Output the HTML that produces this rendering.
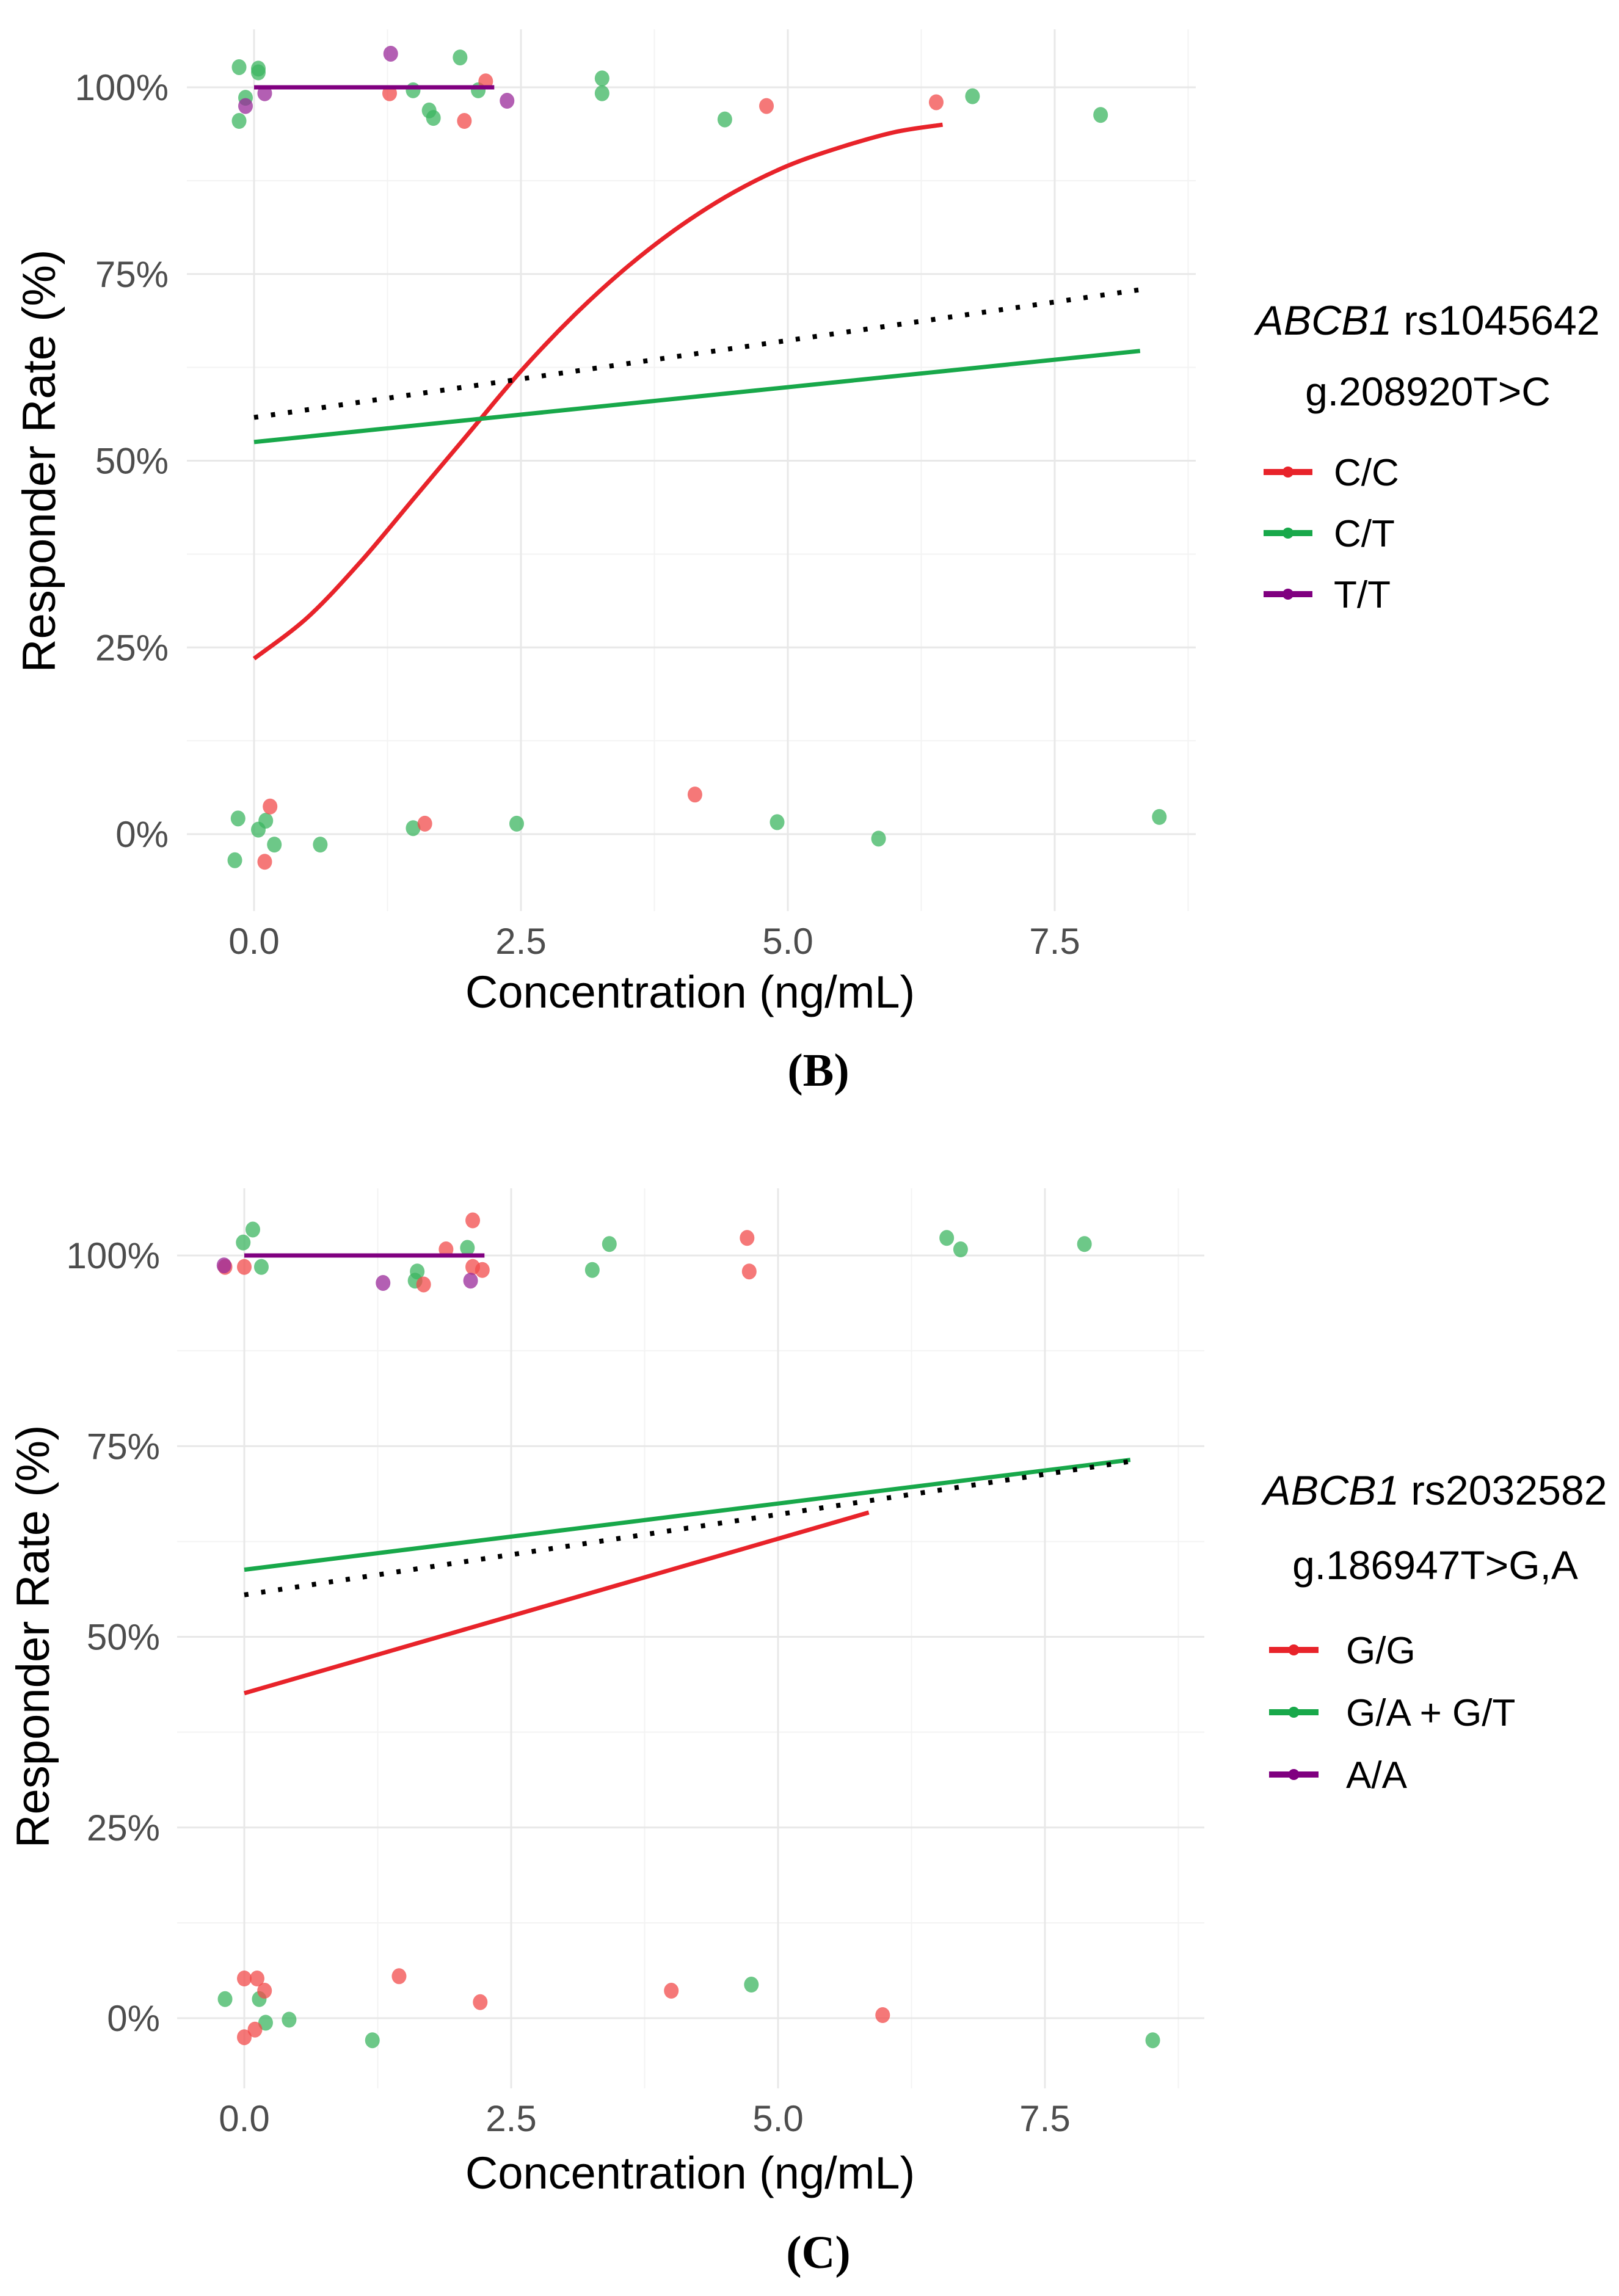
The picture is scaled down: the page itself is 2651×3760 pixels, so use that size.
<!DOCTYPE html>
<html><head><meta charset="utf-8">
<style>
html,body{margin:0;padding:0;background:#fff;}
svg{display:block;}
text{font-family:"Liberation Sans",Arial,sans-serif;}
</style></head>
<body>
<svg id="fig" width="2651" height="3760" viewBox="0 0 2651 3760" xmlns="http://www.w3.org/2000/svg">
<rect width="2651" height="3760" fill="#fff"/>
</svg>
<script>
// ---------- Panel B data ----------
const bTicksX = [0, 2.5, 5, 7.5];
const bTickLabelsX = ["0.0", "2.5", "5.0", "7.5"];
const bTicksY = [0, 25, 50, 75, 100];
const bTickLabelsY = ["0%", "25%", "50%", "75%", "100%"];
const bRedCurveX = [0, 0.5, 1, 1.5, 2, 2.5, 3, 3.5, 4, 4.5, 5, 5.5, 6, 6.45];
const bRedCurveY = [23.5, 29, 36.5, 45, 53.5, 62, 69.5, 76, 81.5, 86, 89.5, 92, 94, 95];
const bGreenLineX = [0, 8.3];
const bGreenLineY = [52.5, 64.7];
const bDotLineX = [0, 8.3];
const bDotLineY = [55.8, 72.9];
const bPurpleLineX = [0, 2.25];
const bPurpleLineY = [100, 100];
const bGreenPtsX = [-0.14,0.04,0.04,-0.08,-0.14,1.49,1.64,1.68,1.93,2.1,3.26,3.26,4.41,6.73,7.93,-0.15,-0.18,0.04,0.11,0.19,0.62,1.49,2.46,4.9,5.85,8.48];
const bGreenPtsY = [102.7,102.5,102,98.6,95.5,99.6,96.9,95.9,104,99.6,101.2,99.2,95.7,98.8,96.3,2.1,-3.5,0.6,1.8,-1.4,-1.4,0.8,1.4,1.6,-0.6,2.3];
const bRedPtsX = [1.27,1.97,2.17,4.8,6.39,0.15,0.1,1.6,4.13];
const bRedPtsY = [99.2,95.5,100.8,97.5,98,3.7,-3.7,1.4,5.3];
const bPurplePtsX = [1.28,-0.08,0.1,2.37];
const bPurplePtsY = [104.5,97.5,99.2,98.2];
const bLegendLabels = ["C/C", "C/T", "T/T"];

// ---------- Panel C data ----------
const cTicksX = [0, 2.5, 5, 7.5];
const cTickLabelsX = ["0.0", "2.5", "5.0", "7.5"];
const cTicksY = [0, 25, 50, 75, 100];
const cTickLabelsY = ["0%", "25%", "50%", "75%", "100%"];
const cRedLineX = [0, 5.85];
const cRedLineY = [42.6, 66.3];
const cGreenLineX = [0, 8.3];
const cGreenLineY = [58.8, 73.2];
const cDotLineX = [0, 8.3];
const cDotLineY = [55.5, 73];
const cPurpleLineX = [0, 2.25];
const cPurpleLineY = [100, 100];
const cGreenPtsX = [-0.01,0.08,0.16,1.62,1.6,2.09,3.26,3.42,6.58,6.71,7.87,-0.18,0.14,0.2,0.42,1.2,4.75,8.51];
const cGreenPtsY = [101.7,103.4,98.5,97.9,96.7,101,98.1,101.5,102.3,100.8,101.5,2.5,2.5,-0.6,-0.2,-2.9,4.4,-2.9];
const cRedPtsX = [-0.18,0,1.68,1.89,2.14,2.14,2.23,4.71,4.73,0,0.12,0.19,0,0.1,1.45,2.21,4,5.98];
const cRedPtsY = [98.5,98.5,96.2,100.8,104.6,98.5,98.1,102.3,97.9,5.2,5.2,3.6,-2.5,-1.5,5.5,2.1,3.6,0.4];
const cPurplePtsX = [-0.19,1.3,2.12];
const cPurplePtsY = [98.7,96.4,96.7];
const cLegendLabels = ["G/G", "G/A + G/T", "A/A"];

const NS = "http://www.w3.org/2000/svg";
const svg = document.getElementById("fig");
const RED = "#e8232a", GREEN = "#18a84a", PURPLE = "#800080";
const RED_PT = "#f24b4b", GREEN_PT = "#3cb660", PURPLE_PT = "#9a2a9a";

function mk(tag, attrs, parent) {
  const e = document.createElementNS(NS, tag);
  for (const k in attrs) e.setAttribute(k, attrs[k]);
  (parent || svg).appendChild(e);
  return e;
}

function smoothPath(pts) {
  let d = "M" + pts[0][0].toFixed(1) + "," + pts[0][1].toFixed(1);
  for (let i = 0; i < pts.length - 1; i++) {
    const p0 = pts[Math.max(0, i - 1)], p1 = pts[i], p2 = pts[i + 1], p3 = pts[Math.min(pts.length - 1, i + 2)];
    const c1x = p1[0] + (p2[0] - p0[0]) / 6, c1y = p1[1] + (p2[1] - p0[1]) / 6;
    const c2x = p2[0] - (p3[0] - p1[0]) / 6, c2y = p2[1] - (p3[1] - p1[1]) / 6;
    d += " C" + c1x.toFixed(1) + "," + c1y.toFixed(1) + " " + c2x.toFixed(1) + "," + c2y.toFixed(1) + " " + p2[0].toFixed(1) + "," + p2[1].toFixed(1);
  }
  return d;
}

function drawPanel(cfg) {
  const g = mk("g", {});
  
  
  const sx = v => cfg.x0 + cfg.ppx * v;
  const sy = p => cfg.y0 - (cfg.y0 - cfg.y100) * p / 100;
  [1.25, 3.75, 6.25, 8.75].forEach(v => {
    const l = mk("line", {x1: sx(v), x2: sx(v), y1: cfg.top, y2: cfg.bottom, stroke: "#f3f3f3", "stroke-width": 2}, g);
    
    
  });
  [12.5, 37.5, 62.5, 87.5].forEach(p => {
    const l = mk("line", {x1: cfg.left, x2: cfg.right, y1: sy(p), y2: sy(p), stroke: "#f3f3f3", "stroke-width": 2}, g);
    
    
  });
  cfg.ticksX.forEach((v, i) => {
    const l = mk("line", {x1: sx(v), x2: sx(v), y1: cfg.top, y2: cfg.bottom, stroke: "#e8e8e8", "stroke-width": 3}, g);
    
    
    const t = mk("text", {x: sx(v), y: cfg.tickXY, "text-anchor": "middle", "font-size": 60, fill: "#4d4d4d"}, g);
    t.textContent = cfg.tickLabelsX[i];
    
    
  });
  cfg.ticksY.forEach((p, i) => {
    const l = mk("line", {x1: cfg.left, x2: cfg.right, y1: sy(p), y2: sy(p), stroke: "#e8e8e8", "stroke-width": 3}, g);
    
    
    const t = mk("text", {x: cfg.tickYX, y: sy(p) + 21, "text-anchor": "end", "font-size": 60, fill: "#4d4d4d"}, g);
    t.textContent = cfg.tickLabelsY[i];
    
    
  });
  function pts(xs, ys, color, nm) {
    xs.forEach((v, i) => {
      const c = mk("ellipse", {cx: sx(v), cy: sy(ys[i]), rx: 12, ry: 13, fill: color, "fill-opacity": 0.75}, g);
      
      
    });
  }
  pts(cfg.greenPtsX, cfg.greenPtsY, GREEN_PT, 'point-green');
  pts(cfg.redPtsX, cfg.redPtsY, RED_PT, 'point-red');
  pts(cfg.purplePtsX, cfg.purplePtsY, PURPLE_PT, 'point-purple');
  function line(xs, ys, color, nm, dotted) {
    const P = xs.map((v, i) => [sx(v), sy(ys[i])]);
    const a = {d: smoothPath(P), fill: "none", stroke: color, "stroke-width": dotted ? 8 : 7, "stroke-linejoin": "round"};
    if (dotted) { a["stroke-dasharray"] = "7 21"; }
    const p = mk("path", a, g);
    
    
  }
  line(cfg.redX, cfg.redY, RED, 'fit-line-red', false);
  line(cfg.greenX, cfg.greenY, GREEN, 'fit-line-green', false);
  line(cfg.dotX, cfg.dotY, "#000", 'overall-fit-dotted', true);
  line(cfg.purpleX, cfg.purpleY, PURPLE, 'fit-line-purple', false);
  const yt = mk("text", {x: 0, y: 0, "text-anchor": "middle", "font-size": 76, fill: "#000", transform: `translate(${cfg.yTitleX},${cfg.yTitleY}) rotate(-90)`}, g);
  yt.textContent = "Responder Rate (%)";
  
  
  const xt = mk("text", {x: cfg.xTitleX, y: cfg.xTitleY, "text-anchor": "middle", "font-size": 74, fill: "#000"}, g);
  xt.textContent = "Concentration (ng/mL)";
  
  
  const lg = mk("g", {}, g);
  
  
  const t1 = mk("text", {x: cfg.legCX, y: cfg.legT1, "text-anchor": "middle", "font-size": 68, fill: "#000"}, lg);
  const it = mk("tspan", {"font-style": "italic"}, t1);
  it.textContent = "ABCB1";
  const rs = mk("tspan", {}, t1);
  rs.textContent = " " + cfg.rs;
  
  
  const t2 = mk("text", {x: cfg.legCX, y: cfg.legT2, "text-anchor": "middle", "font-size": 66, fill: "#000"}, lg);
  t2.textContent = cfg.variant;
  
  
  const cols = [RED, GREEN, PURPLE];
  cfg.legendLabels.forEach((lab, i) => {
    const yy = cfg.legY0 + i * cfg.legDY;
    const e = mk("g", {}, lg);
    
    
    mk("line", {x1: cfg.keyX1, x2: cfg.keyX2, y1: yy, y2: yy, stroke: cols[i], "stroke-width": 10}, e);
    mk("circle", {cx: (cfg.keyX1 + cfg.keyX2) / 2, cy: yy, r: 9, fill: cols[i]}, e);
    const tt = mk("text", {x: cfg.labX, y: yy + 22, "font-size": 62, fill: "#000"}, e);
    tt.textContent = lab;
  });
  const cap = mk("text", {x: cfg.capX, y: cfg.capY, "text-anchor": "middle", "font-size": 76, "font-weight": "bold", fill: "#000", style: "font-family:'Liberation Serif',serif"}, g);
  cap.textContent = cfg.caption;
  
  
}

drawPanel({
  name: 'panel-b', x0: 416, ppx: 174.8, y0: 1366, y100: 143,
  left: 306, right: 1958, top: 48, bottom: 1492,
  ticksX: bTicksX, tickLabelsX: bTickLabelsX, ticksY: bTicksY, tickLabelsY: bTickLabelsY,
  tickXY: 1562, tickYX: 276,
  greenPtsX: bGreenPtsX, greenPtsY: bGreenPtsY, redPtsX: bRedPtsX, redPtsY: bRedPtsY,
  purplePtsX: bPurplePtsX, purplePtsY: bPurplePtsY,
  redX: bRedCurveX, redY: bRedCurveY, greenX: bGreenLineX, greenY: bGreenLineY,
  dotX: bDotLineX, dotY: bDotLineY, purpleX: bPurpleLineX, purpleY: bPurpleLineY,
  yTitleX: 90, yTitleY: 755, xTitleX: 1130, xTitleY: 1650,
  legCX: 2338, legT1: 548, legT2: 664, rs: "rs1045642", variant: "g.208920T>C",
  legendLabels: bLegendLabels, legY0: 773, legDY: 100, keyX1: 2069, keyX2: 2149, labX: 2184,
  capX: 1340, capY: 1778, caption: "(B)"
});

drawPanel({
  name: 'panel-c', x0: 400, ppx: 174.8, y0: 3305, y100: 2056,
  left: 290, right: 1972, top: 1946, bottom: 3420,
  ticksX: cTicksX, tickLabelsX: cTickLabelsX, ticksY: cTicksY, tickLabelsY: cTickLabelsY,
  tickXY: 3490, tickYX: 262,
  greenPtsX: cGreenPtsX, greenPtsY: cGreenPtsY, redPtsX: cRedPtsX, redPtsY: cRedPtsY,
  purplePtsX: cPurplePtsX, purplePtsY: cPurplePtsY,
  redX: cRedLineX, redY: cRedLineY, greenX: cGreenLineX, greenY: cGreenLineY,
  dotX: cDotLineX, dotY: cDotLineY, purpleX: cPurpleLineX, purpleY: cPurpleLineY,
  yTitleX: 80, yTitleY: 2680, xTitleX: 1130, xTitleY: 3584,
  legCX: 2350, legT1: 2464, legT2: 2586, rs: "rs2032582", variant: "g.186947T>G,A",
  legendLabels: cLegendLabels, legY0: 2702, legDY: 102, keyX1: 2078, keyX2: 2159, labX: 2204,
  capX: 1340, capY: 3714, caption: "(C)"
});
</script>
</body></html>
